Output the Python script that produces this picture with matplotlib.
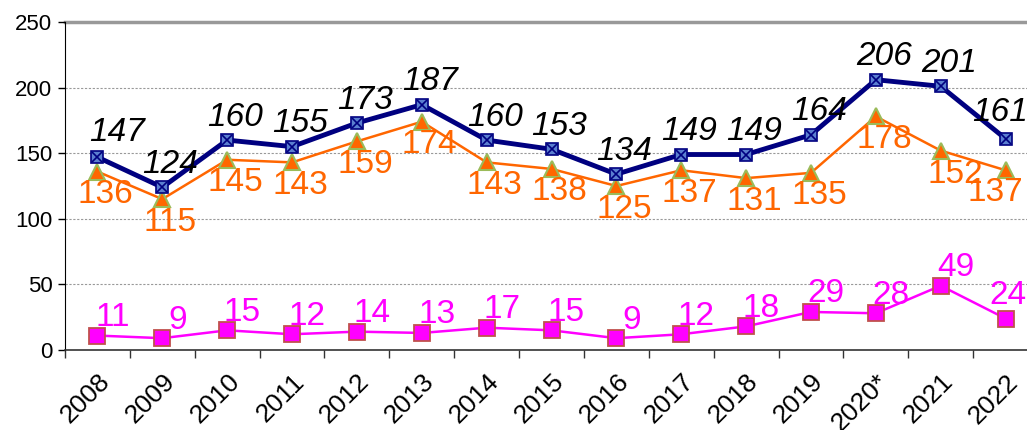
import matplotlib.pyplot as plt
import numpy as np

plt.rcParams['font.family'] = ['Liberation Sans', 'DejaVu Sans']

# Data
years = ['2008', '2009', '2010', '2011', '2012', '2013', '2014', '2015',
         '2016', '2017', '2018', '2019', '2020*', '2021', '2022']
total = [147, 124, 160, 155, 173, 187, 160, 153, 134, 149, 149, 164, 206, 201, 161]
orange_series = [136, 115, 145, 143, 159, 174, 143, 138, 125, 137, 131, 135, 178, 152, 137]
pink_series = [11, 9, 15, 12, 14, 13, 17, 15, 9, 12, 18, 29, 28, 49, 24]

navy = '#000080'
orange = '#FF6600'
pink = '#FF00FF'

# label offsets in pixels (dx, dy); the last year's labels are pulled left
navy_off = {i: (8, 23) for i in range(len(years))}
navy_off[0] = (20, 25)
navy_off[14] = (-5, 26)
orange_off = {i: (8, -23) for i in range(len(years))}
orange_off[13] = (15, -24)
orange_off[14] = (-10, -22)
pink_off = {i: (15, 18) for i in range(len(years))}
pink_off[14] = (2, 23)

fig = plt.figure(figsize=(10.27, 4.30), dpi=100)
# axes runs slightly past the right edge of the image, like the original
ax = fig.add_axes([65 / 1027, 80 / 430, 973 / 1027, 328 / 430])
x = np.arange(len(years))

# grid
for yv in [50, 100, 150, 200]:
    ax.axhline(yv, color='#999999', lw=0.8, ls=(0, (2, 1.5)), zorder=0)
ax.axhline(250, color='#999999', lw=2.5, zorder=1, clip_on=False)

# lines
ax.plot(x, orange_series, color=orange, lw=1.8, zorder=3)
ax.plot(x, orange_series, ls='none', marker='^', ms=11, mfc=orange, mec='#9BBB59', mew=1.5, zorder=4)
ax.plot(x, total, color=navy, lw=3.5, zorder=5)
ax.plot(x, total, ls='none', marker='s', ms=8, mfc='#5B7FD0', mec=navy, mew=1.2, zorder=6)
ax.plot(x, total, ls='none', marker='x', ms=7, mec=navy, mew=1.2, zorder=7)
ax.plot(x, pink_series, color=pink, lw=1.8, zorder=3)
ax.plot(x, pink_series, ls='none', marker='s', ms=11, mfc=pink, mec='#C0504D', mew=1.3, zorder=4)

# data labels
for xi, v in zip(x, total):
    ax.annotate(str(v), (xi, v), xytext=navy_off[xi], textcoords='offset pixels',
                ha='center', va='center', fontsize=24, style='italic', color='black', zorder=8)
for xi, v in zip(x, orange_series):
    ax.annotate(str(v), (xi, v), xytext=orange_off[xi], textcoords='offset pixels',
                ha='center', va='center', fontsize=24, color=orange, zorder=8)
for xi, v in zip(x, pink_series):
    ax.annotate(str(v), (xi, v), xytext=pink_off[xi], textcoords='offset pixels',
                ha='center', va='center', fontsize=24, color=pink, zorder=8)

ax.set_xlim(-0.5, len(years) - 0.5)
ax.set_ylim(0, 250)
ax.set_yticks([0, 50, 100, 150, 200, 250])
ax.tick_params(axis='y', labelsize=16, length=5, width=1, direction='out', pad=4)

ax.set_xticks(x)
ax.set_xticklabels(years, rotation=45, ha='right', rotation_mode='anchor', fontsize=19)
ax.tick_params(axis='x', length=0, pad=14)
ax.set_xticks(np.append(x - 0.5, x[-1] + 0.5), minor=True)
ax.tick_params(axis='x', which='minor', length=6, width=1, direction='out', color='#333333')

for s in ['top', 'right']:
    ax.spines[s].set_visible(False)
ax.spines['left'].set_color('black')
ax.spines['bottom'].set_color('#333333')
ax.spines['bottom'].set_linewidth(1.2)

fig.savefig('out.png', dpi=100)
